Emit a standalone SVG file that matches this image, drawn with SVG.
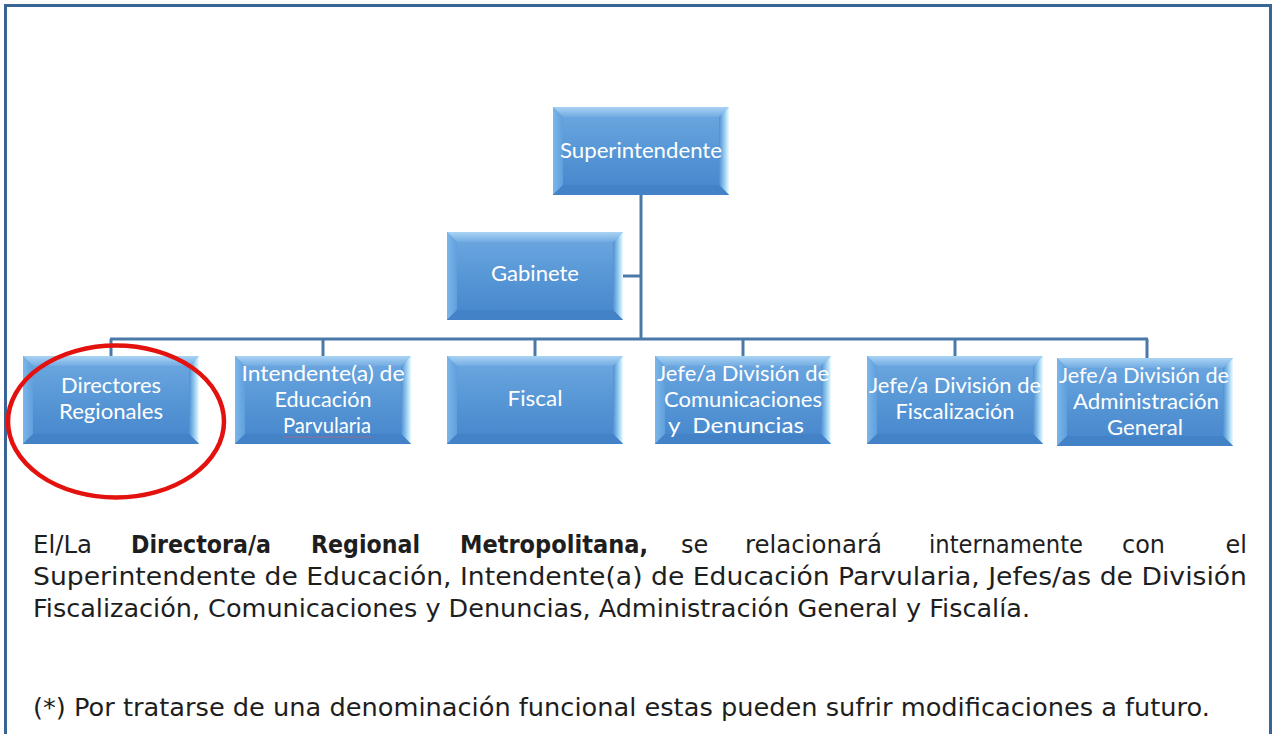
<svg xmlns="http://www.w3.org/2000/svg" xmlns:xlink="http://www.w3.org/1999/xlink" width="1274" height="734" viewBox="0 0 1274 734">
<style>
.nt{font-family:Lato,"Open Sans","Liberation Sans",sans-serif;font-size:21px;fill:#ffffff;text-anchor:middle}
.pt{font-family:"DejaVu Sans","Liberation Sans",sans-serif;font-size:24px;fill:#1e1e1e}
.pb{font-weight:bold}
.cn{fill:none;stroke:#4a79a9;stroke-width:3}
</style>
<defs>
<linearGradient id="gm" x1="0" y1="0" x2="0" y2="1">
<stop offset="0" stop-color="#6ea8e0"/>
<stop offset="0.5" stop-color="#5797d6"/>
<stop offset="1" stop-color="#4585cb"/>
</linearGradient>
<linearGradient id="gt" x1="0" y1="0" x2="0" y2="1">
<stop offset="0" stop-color="#a9d3f4"/>
<stop offset="1" stop-color="#72abe2"/>
</linearGradient>
<linearGradient id="gl" x1="0" y1="0" x2="1" y2="0">
<stop offset="0" stop-color="#7cb6ea"/>
<stop offset="1" stop-color="#5f9fdc"/>
</linearGradient>
<linearGradient id="gr" x1="0" y1="0" x2="1" y2="0">
<stop offset="0" stop-color="#4f8fd2"/>
<stop offset="0.6" stop-color="#9fd2f3"/>
<stop offset="1" stop-color="#eefbff"/>
</linearGradient>
<g id="box">
<rect width="176" height="88" fill="url(#gm)"/>
<polygon points="0,0 176,0 166,10 10,10" fill="url(#gt)"/>
<polygon points="0,0 10,10 10,78 0,88" fill="url(#gl)"/>
<polygon points="176,0 176,88 166,78 166,10" fill="url(#gr)"/>
<polygon points="0,88 10,78 166,78 176,88" fill="#4482c8"/>
</g>
</defs>
<rect width="1274" height="734" fill="#ffffff"/>
<rect x="5.5" y="5.5" width="1265" height="760" fill="none" stroke="#386496" stroke-width="3"/>

<g id="connectors">
<path class="cn" d="M641 195 V339"/>
<path class="cn" d="M623 276 H641"/>
<path class="cn" d="M110 339 H1148"/>
<path class="cn" d="M111 339 V356"/>
<path class="cn" d="M323 339 V356"/>
<path class="cn" d="M535 339 V356"/>
<path class="cn" d="M743 339 V356"/>
<path class="cn" d="M955 339 V356"/>
<path class="cn" d="M1147 339 V358"/>
</g>

<g id="superintendente">
<use xlink:href="#box" x="553" y="107"/>
<text class="nt" x="641" y="158" textLength="162" lengthAdjust="spacingAndGlyphs">Superintendente</text>
</g>
<g id="gabinete">
<use xlink:href="#box" x="447" y="232"/>
<text class="nt" x="535" y="281" textLength="88" lengthAdjust="spacingAndGlyphs">Gabinete</text>
</g>
<g id="directores">
<use xlink:href="#box" x="23" y="356"/>
<text class="nt" x="111" y="393" textLength="100" lengthAdjust="spacingAndGlyphs">Directores</text>
<text class="nt" x="111" y="419" textLength="104" lengthAdjust="spacingAndGlyphs">Regionales</text>
</g>
<g id="intendente">
<use xlink:href="#box" x="235" y="356"/>
<text class="nt" x="323" y="381" textLength="163" lengthAdjust="spacingAndGlyphs">Intendente(a) de</text>
<text class="nt" x="323" y="407" textLength="97" lengthAdjust="spacingAndGlyphs">Educación</text>
<text class="nt" x="327" y="433" textLength="88" lengthAdjust="spacingAndGlyphs">Parvularia</text>
<path d="M283 437 H371" stroke="#d86060" stroke-width="0.8" opacity="0.7"/>
</g>
<g id="fiscal">
<use xlink:href="#box" x="447" y="356"/>
<text class="nt" x="535" y="406" textLength="55" lengthAdjust="spacingAndGlyphs">Fiscal</text>
</g>
<g id="comunicaciones">
<use xlink:href="#box" x="655" y="356"/>
<text class="nt" x="743" y="381" textLength="172" lengthAdjust="spacingAndGlyphs">Jefe/a División de</text>
<text class="nt" x="743" y="407" textLength="158" lengthAdjust="spacingAndGlyphs">Comunicaciones</text>
<text class="nt" x="736" y="433" textLength="136" lengthAdjust="spacingAndGlyphs" xml:space="preserve">y  Denuncias</text>
</g>
<g id="fiscalizacion">
<use xlink:href="#box" x="867" y="356"/>
<text class="nt" x="955" y="393" textLength="172" lengthAdjust="spacingAndGlyphs">Jefe/a División de</text>
<text class="nt" x="955" y="419" textLength="119" lengthAdjust="spacingAndGlyphs">Fiscalización</text>
</g>
<g id="administracion">
<use xlink:href="#box" x="1057" y="358"/>
<text class="nt" x="1144" y="383" textLength="170" lengthAdjust="spacingAndGlyphs">Jefe/a División de</text>
<text class="nt" x="1146" y="409" textLength="146" lengthAdjust="spacingAndGlyphs">Administración</text>
<text class="nt" x="1145" y="435" textLength="76" lengthAdjust="spacingAndGlyphs">General</text>
</g>

<ellipse id="highlight" cx="116" cy="421.5" rx="108" ry="76" fill="none" stroke="#e3120e" stroke-width="4.5"/>

<g id="texto">
<text class="pt" x="33" y="553" textLength="59" lengthAdjust="spacingAndGlyphs">El/La</text>
<text class="pt pb" x="131" y="553" textLength="140" lengthAdjust="spacingAndGlyphs">Directora/a</text>
<text class="pt pb" x="311" y="553" textLength="109" lengthAdjust="spacingAndGlyphs">Regional</text>
<text class="pt pb" x="460" y="553" textLength="188" lengthAdjust="spacingAndGlyphs">Metropolitana,</text>
<text class="pt" x="681" y="553">se</text>
<text class="pt" x="745" y="553" textLength="137" lengthAdjust="spacingAndGlyphs">relacionará</text>
<text class="pt" x="929" y="553" textLength="154" lengthAdjust="spacingAndGlyphs">internamente</text>
<text class="pt" x="1122" y="553" textLength="43" lengthAdjust="spacingAndGlyphs">con</text>
<text class="pt" x="1247" y="553" text-anchor="end">el</text>
<text class="pt" x="33" y="585" textLength="1214" lengthAdjust="spacingAndGlyphs">Superintendente de Educación, Intendente(a) de Educación Parvularia, Jefes/as de División</text>
<text class="pt" x="33" y="617" textLength="997" lengthAdjust="spacingAndGlyphs">Fiscalización, Comunicaciones y Denuncias, Administración General y Fiscalía.</text>
<text class="pt" x="33" y="716" textLength="1177" lengthAdjust="spacingAndGlyphs">(*) Por tratarse de una denominación funcional estas pueden sufrir modificaciones a futuro.</text>
</g>
</svg>
